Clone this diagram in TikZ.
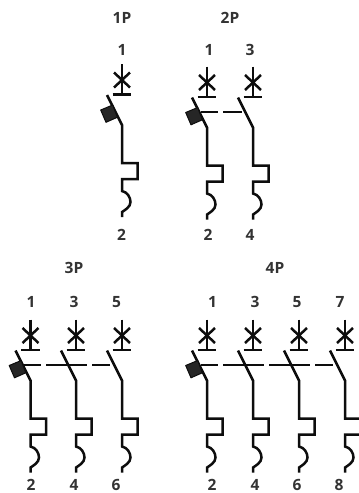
\documentclass[tikz,border=0pt]{standalone}
\usepackage{fontspec}
\setmainfont{Open Sans}
\definecolor{ink}{HTML}{0D0D0D}
\definecolor{txt}{HTML}{333333}
\definecolor{knobfill}{HTML}{262626}
\tikzset{
  x=1pt,y=-1pt,
  wire/.style={draw=ink,line width=2.5pt,line join=miter},
  lbl/.style={text=txt,font=\fontsize{15.5}{16}\selectfont\bfseries,inner sep=0pt,anchor=center},
  knob/.style={fill=knobfill,draw=ink,line width=1pt,line join=round}
}
% #1 x of pole, #2 y offset
\newcommand{\polesym}[2]{%
 \begin{scope}[shift={(#1,#2)}]
  \draw[wire] (0,64) -- (0,94.5);
  \draw[wire] (-9.3,94.5) -- (9.3,94.5);
  \draw[wire] (-8,72.5) -- (8,87.5);
  \draw[wire] (8,72.5) -- (-8,87.5);
  \draw[wire] (-15,95) -- (0,125) -- (0,163) -- (15.5,163) -- (15.5,179) -- (0,179) -- (0,191)
     .. controls (5,192) and (8.5,197) .. (8.5,202) .. controls (8.5,207) and (3,210) .. (0,212) -- (0,217);
 \end{scope}}
\newcommand{\knobsym}[2]{%
 \begin{scope}[shift={(#1,#2)}]
  \draw[knob] (-21.3,110) -- (-9.3,105) -- (-4.7,117.3) -- (-16,122.3) -- cycle;
 \end{scope}}
\begin{document}
\begin{tikzpicture}
\useasboundingbox (0,0) rectangle (359,493);
% 1P
\node[lbl] (h1) at (122,18) {1P};
\node[lbl] (t11) at (122,50) {1};
\polesym{122}{0}\knobsym{122}{0}
\node[lbl] (b11) at (121.5,235) {2};
% 2P
\node[lbl] (h2) at (230,18) {2P};
\node[lbl] (t21) at (209,50) {1};
\node[lbl] (t22) at (250,50) {3};
\polesym{207}{2.5}\polesym{253}{2.5}\knobsym{207}{2.5}
\draw[wire] (201,112) -- (218,112) (223,112) -- (242,112);
\node[lbl] (b21) at (208,235) {2};
\node[lbl] (b22) at (250,235) {4};
% 3P
\node[lbl] (h3) at (74,268) {3P};
\node[lbl] (t31) at (31,302) {1};
\node[lbl] (t32) at (74,302) {3};
\node[lbl] (t33) at (116.5,302) {5};
\polesym{30.5}{255.5}\polesym{76}{255.5}\polesym{122}{255.5}\knobsym{30.5}{255.5}
\draw[wire] (24,365) -- (41,365) (46,365) -- (87,365) (92,365) -- (110,365);
\node[lbl] (b31) at (31,485) {2};
\node[lbl] (b32) at (74,485) {4};
\node[lbl] (b33) at (116,485) {6};
% 4P
\node[lbl] (h4) at (275,268) {4P};
\node[lbl] (t41) at (212.5,302) {1};
\node[lbl] (t42) at (255,302) {3};
\node[lbl] (t43) at (297,302) {5};
\node[lbl] (t44) at (340,302) {7};
\polesym{207}{255.5}\polesym{253}{255.5}\polesym{299}{255.5}\polesym{345}{255.5}\knobsym{207}{255.5}
\draw[wire] (201,365) -- (218,365) (223,365) -- (264,365) (269,365) -- (310,365) (315,365) -- (333,365);
\node[lbl] (b41) at (212,485) {2};
\node[lbl] (b42) at (255,485) {4};
\node[lbl] (b43) at (297,485) {6};
\node[lbl] (b44) at (339,485) {8};
\end{tikzpicture}
\end{document}
